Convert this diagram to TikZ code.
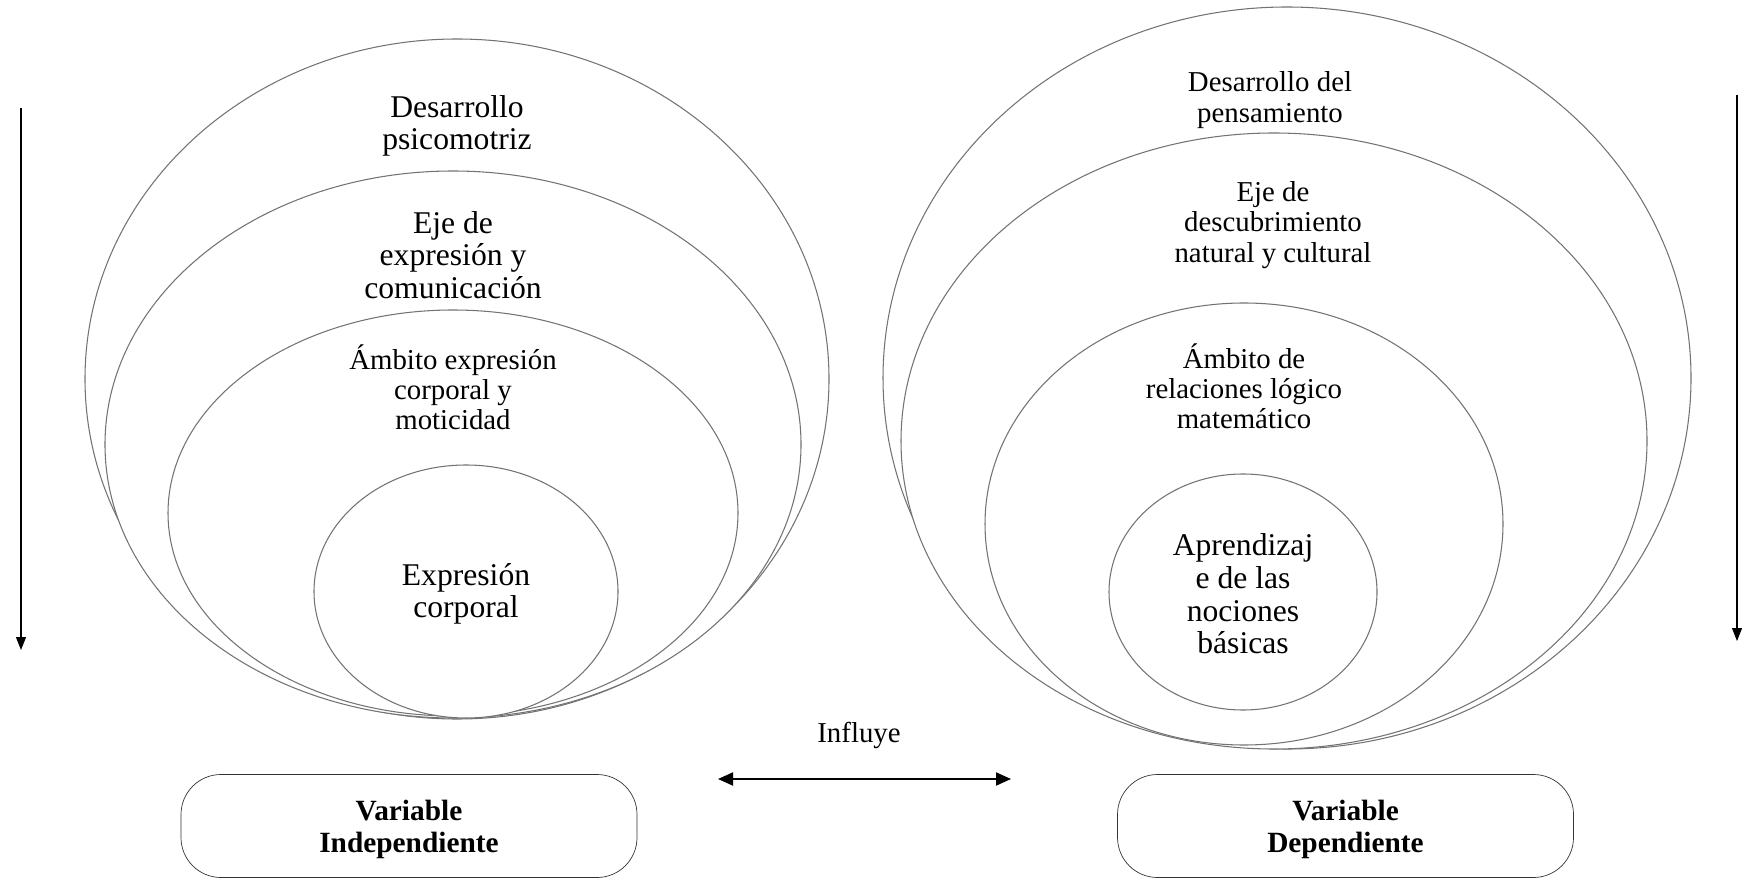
\documentclass[tikz,border=0pt]{standalone}
\usepackage{fontspec}
\setmainfont{Liberation Serif}
\usetikzlibrary{arrows.meta}

\begin{document}
\begin{tikzpicture}[
    ring/.style={draw=black!55, fill=white, line width=0.6pt},
    bigtxt/.style={align=center, inner sep=0pt, font=\fontsize{18}{18.6}\selectfont},
    midtxt/.style={align=center, inner sep=0pt, font=\fontsize{16.4}{17.2}\selectfont},
    varbox/.style={draw=black!80, rounded corners=0.8cm, minimum width=9.12cm, minimum height=2.06cm,
                   align=center, font=\fontsize{16.7}{18.2}\selectfont\bfseries},
    downarrow/.style={-{Triangle[length=0.26cm, width=0.2cm]}, line width=0.6pt}]
    \useasboundingbox (0,0) rectangle (34.9,17.6);

    \draw[ring] (9.14,10.02) ellipse (7.44 and 6.8);
    \draw[ring] (9.06,8.71) ellipse (6.96 and 5.47);
    \draw[ring] (9.06,7.34) ellipse (5.7 and 4.06);
    \draw[ring] (9.32,5.77) ellipse (3.04 and 2.53);

    \node[bigtxt] (psico) at (9.14,15.08) {Desarrollo\\psicomotriz};
    \node[bigtxt] (ejeexp) at (9.06,12.5) {Eje de\\expresión y\\comunicación};
    \node[midtxt] (ambexp) at (9.06,9.86) {Ámbito expresión\\corporal y\\moticidad};
    \node[bigtxt] (expcorp) at (9.32,5.72) {Expresión\\corporal};

    \draw[ring] (25.74,10.04) ellipse (8.08 and 7.42);
    \draw[ring] (25.48,8.78) ellipse (7.46 and 6.16);
    \draw[ring] (24.88,7.12) ellipse (5.18 and 4.42);
    \draw[ring] (24.86,5.76) ellipse (2.68 and 2.36);

    \node[midtxt] (pens) at (25.4,15.6) {Desarrollo del\\pensamiento};
    \node[midtxt] (ejedesc) at (25.46,13.1) {Eje de\\descubrimiento\\natural y cultural};
    \node[midtxt] (amblog) at (24.88,9.88) {Ámbito de\\relaciones lógico\\matemático};
    \node[bigtxt] (nociones) at (24.86,5.72) {Aprendizaj\\e de las\\nociones\\básicas};

    \node[varbox, text depth=0pt] (indep) at (8.18,1.08) {Variable\\Independiente};
    \node[varbox, text depth=0pt] (dep) at (26.91,1.08) {Variable\\Dependiente};

    \coordinate (ltop) at (0.42,15.44);
    \coordinate (lbot) at (0.42,4.6);
    \coordinate (rtop) at (34.74,15.7);
    \coordinate (rbot) at (34.74,4.78);
    \draw[downarrow] (ltop) -- (lbot);
    \draw[downarrow] (rtop) -- (rbot);

    \coordinate (infl) at (14.36,2.02);
    \coordinate (infr) at (20.22,2.02);
    \node[font=\fontsize{16.4}{17}\selectfont] (influye) at (17.18,2.9) {Influye};
    \draw[{Triangle[length=0.3cm, width=0.26cm]}-{Triangle[length=0.3cm, width=0.26cm]}, line width=1.1pt] (infl) -- (infr);
\end{tikzpicture}
\end{document}
